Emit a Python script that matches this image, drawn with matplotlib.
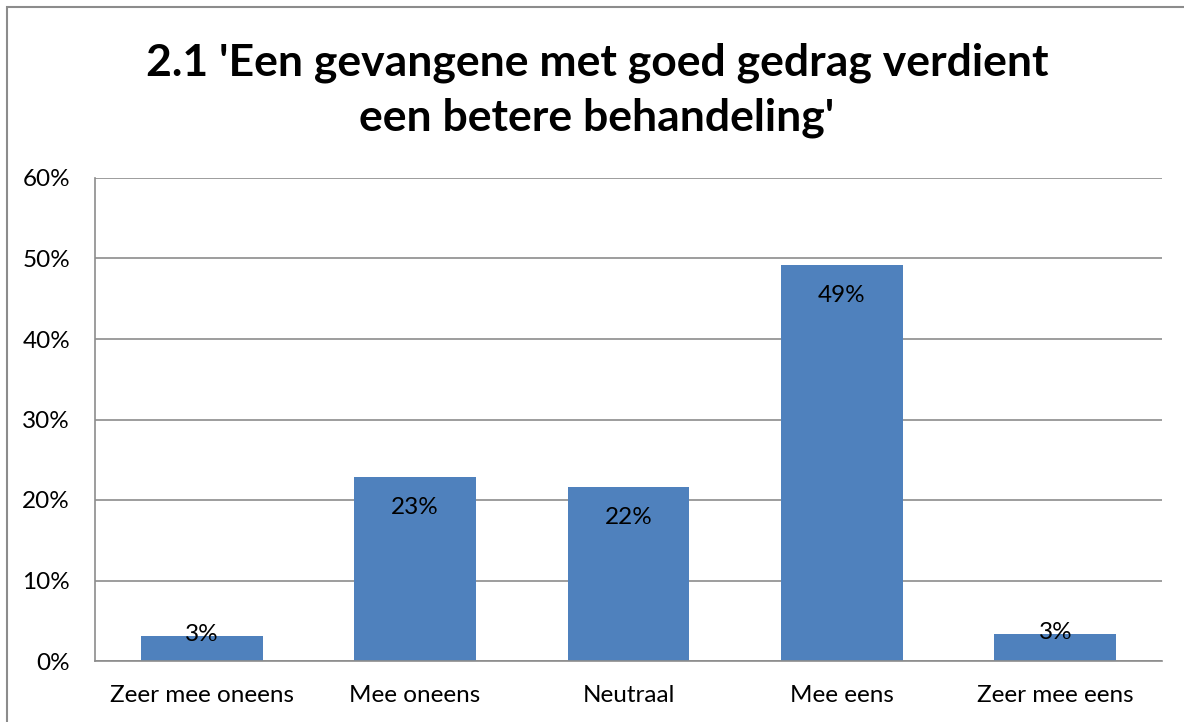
import matplotlib
matplotlib.use("Agg")
import matplotlib.pyplot as plt
from matplotlib.patches import Rectangle
from matplotlib.ticker import PercentFormatter

# Data
categories = ['Zeer mee oneens', 'Mee oneens', 'Neutraal', 'Mee eens', 'Zeer mee eens']
values = [3.1, 22.9, 21.6, 49.2, 3.4]
labels = ['3%', '23%', '22%', '49%', '3%']
title = "2.1 'Een gevangene met goed gedrag verdient\neen betere behandeling'"

plt.rcParams['font.family'] = ['Lato', 'DejaVu Sans']

fig = plt.figure(figsize=(11.84, 7.22), dpi=100)
ax = fig.add_axes([95 / 1184, 61 / 722, 1067 / 1184, 483 / 722])

bar_color = '#4F81BD'
grid_color = '#8C8C8C'

x = range(len(categories))
ax.bar(x, values, width=0.57, color=bar_color, zorder=3)

ax.set_ylim(0, 60)
ax.set_xlim(-0.5, len(categories) - 0.5)
ax.set_yticks(range(0, 61, 10))
ax.yaxis.set_major_formatter(PercentFormatter(decimals=0))
ax.set_xticks(list(x))
ax.set_xticklabels(categories)
ax.tick_params(axis='both', length=0, labelsize=17.5)
ax.tick_params(axis='y', pad=18)
ax.tick_params(axis='x', pad=17)

ax.grid(axis='y', color=grid_color, linewidth=1.2, zorder=0)
for side in ['top', 'right']:
    ax.spines[side].set_visible(False)
for side in ['left', 'bottom']:
    ax.spines[side].set_color(grid_color)
    ax.spines[side].set_linewidth(1.2)
    ax.spines[side].set_zorder(4)

# data labels, inside end of each bar
for xi, v, lab in zip(x, values, labels):
    if v > 8:
        ax.annotate(lab, (xi, v), xytext=(0, -22), textcoords='offset points',
                    ha='center', va='center', fontsize=17.5, zorder=5)
    else:
        ax.annotate(lab, (xi, v), xytext=(0, 1), textcoords='offset points',
                    ha='center', va='center', fontsize=17.5, zorder=5)

fig.text(0.5 + 5 / 1184, 1 - 90 / 722, title, ha='center', va='center', fontsize=32,
         fontweight='bold', linespacing=1.43)

# outer chart border
fig.patches.append(Rectangle((7 / 1184, -0.02), 1.02, 1 - 7 / 722 + 0.02,
                             transform=fig.transFigure, fill=False,
                             edgecolor='#8C8C8C', linewidth=1.5))

fig.savefig('out.png', dpi=100)
